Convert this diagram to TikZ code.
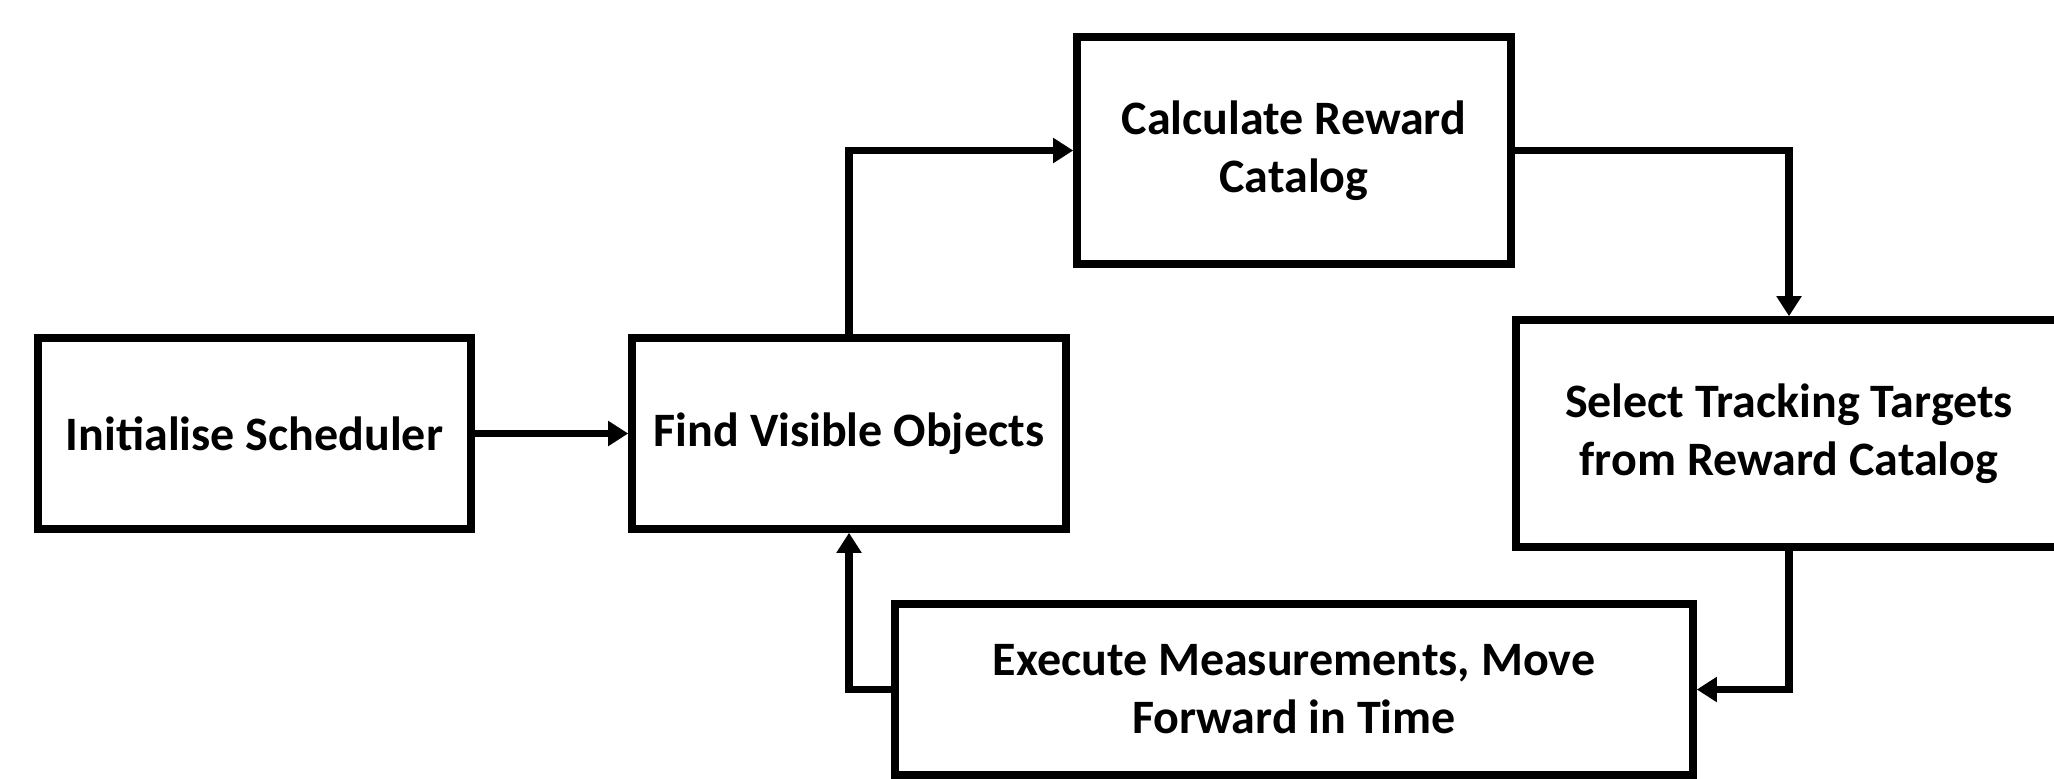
\documentclass[tikz,border=0pt]{standalone}
\usepackage{fontspec}
\setmainfont{Carlito}
\usetikzlibrary{arrows.meta}
\tikzset{
  stepbox/.style={draw=black, line width=3.8pt, fill=white, align=center, inner sep=0pt,
    font=\bfseries\fontsize{24}{29}\selectfont, text=black},
  conn/.style={draw=black, line width=3.8pt, line join=miter, -{Triangle[length=10pt,width=12pt]}}
}
\begin{document}
\begin{tikzpicture}[x=0.5pt,y=-0.5pt]
\useasboundingbox (0,0) rectangle (2054,778);
\node[stepbox, minimum width=216.5pt, minimum height=95.5pt] (init) at (254.5,433.5) {Initialise Scheduler};
\node[stepbox, minimum width=217pt, minimum height=95.5pt] (find) at (849,433.5) {Find Visible Objects};
\node[stepbox, minimum width=217pt, minimum height=113.5pt] (calc) at (1294,150.5) {Calculate Reward\\Catalog};
\node[stepbox, minimum width=273pt, minimum height=113.5pt] (sel) at (1789,433.5) {Select Tracking Targets\\from Reward Catalog};
\node[stepbox, minimum width=399pt, minimum height=85.5pt] (exec) at (1294,689.5) {Execute Measurements, Move\\Forward in Time};
\draw[conn] (init.east) -- (find.west);
\draw[conn] (find.north) |- (calc.west);
\draw[conn] (calc.east) -| (sel.north);
\draw[conn] (sel.south) |- (exec.east);
\draw[conn] (exec.west) -| (find.south);
\end{tikzpicture}
\end{document}
